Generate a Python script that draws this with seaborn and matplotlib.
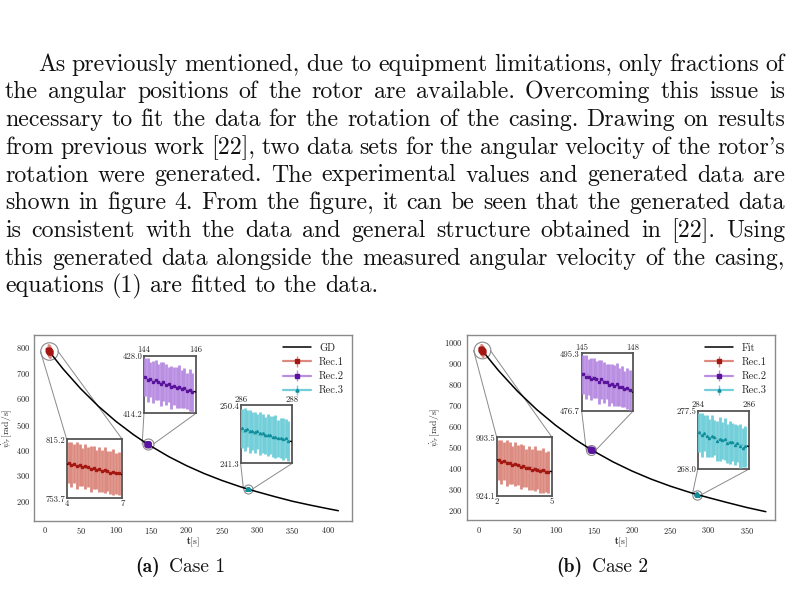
import numpy as np
import pandas as pd
import matplotlib
matplotlib.use('Agg')
import matplotlib.pyplot as plt
import matplotlib.transforms as mtransforms
import seaborn as sns

# ---------------- text ----------------
paragraph = [
    "As previously mentioned, due to equipment limitations, only fractions of",
    "the angular positions of the rotor are available.  Overcoming this issue is",
    "necessary to fit the data for the rotation of the casing. Drawing on results",
    "from previous work [22], two data sets for the angular velocity of the rotor's",
    "rotation were generated.  The experimental values and generated data are",
    "shown in figure 4. From the figure, it can be seen that the generated data",
    "is consistent with the data and general structure obtained in [22].  Using",
    "this generated data alongside the measured angular velocity of the casing,",
    "equations (1) are fitted to the data.",
]
caption_tags = ["(a)", "(b)"]
caption_texts = ["Case 1", "Case 2"]
curve_labels = ["GD", "Fit"]
rec_names = ["Rec.1", "Rec.2", "Rec.3"]

# ---------------- Case 1 data ----------------
c1_curve_t = [4, 7, 25, 50, 75, 100, 125, 144, 146, 175, 200, 225, 250, 275, 286, 288, 300, 325, 350, 375, 400, 415]
c1_curve_v = [789.5, 778.5, 715.8, 638.1, 569.9, 510.3, 458.1, 422.7, 419.3, 372.2, 337.1, 306.3, 279.4, 255.7,
              246.3, 244.7, 235.1, 216.0, 198.0, 183.0, 169.0, 161.0]

c1_r1_t = [4.10, 4.25, 4.40, 4.55, 4.70, 4.85, 5.00, 5.15, 5.30, 5.45, 5.60, 5.75, 5.90, 6.05, 6.20, 6.35, 6.50, 6.65, 6.80]
c1_r1_y = [790.8, 788.9, 790.0, 787.9, 788.1, 786.1, 787.1, 786.1, 784.6, 785.8, 783.8, 783.9, 782.1, 783.1, 781.8, 780.6, 781.6, 779.9, 780.0]
c1_r1_e = [21.5, 23.8, 20.6, 24.5, 22.0, 19.8, 23.2, 21.0, 24.0, 22.6, 20.4, 23.5, 21.8, 24.2, 20.9, 22.8, 23.9, 21.2, 22.5]

c1_r2_t = [144.05, 144.15, 144.25, 144.35, 144.45, 144.55, 144.65, 144.75, 144.85, 144.95, 145.05, 145.15, 145.25,
           145.35, 145.45, 145.55, 145.65, 145.75, 145.85]
c1_r2_y = [422.9, 422.2, 422.3, 421.7, 422.1, 421.7, 421.2, 421.8, 421.1, 421.2, 420.4, 420.8, 420.3, 420.6, 420.0,
           420.2, 419.5, 419.7, 419.2]
c1_r2_e = [4.6, 5.2, 4.3, 5.0, 4.8, 4.4, 5.3, 4.7, 4.9, 4.2, 5.1, 4.6, 4.9, 5.2, 4.5, 4.8, 4.3, 5.0, 4.7]

c1_r3_t = [286.05, 286.15, 286.25, 286.35, 286.45, 286.55, 286.65, 286.75, 286.85, 286.95, 287.05, 287.15, 287.25,
           287.35, 287.45, 287.55, 287.65, 287.75, 287.85]
c1_r3_y = [246.8, 246.6, 246.7, 246.3, 246.4, 246.2, 246.3, 246.0, 246.0, 245.7, 245.8, 245.8, 245.5, 245.5, 245.2,
           245.3, 245.1, 245.2, 244.8]
c1_r3_e = [3.1, 3.4, 2.9, 3.3, 3.0, 3.2, 2.8, 3.4, 3.1, 2.9, 3.3, 3.0, 3.2, 3.4, 2.9, 3.1, 3.3, 3.0, 3.2]

c1_inset_xlim = [(4, 7), (144, 146), (286, 288)]
c1_inset_ylim = [(753.7, 815.2), (414.2, 428.0), (241.3, 250.4)]
c1_xticks = [0, 50, 100, 150, 200, 250, 300, 350, 400]
c1_yticks = [200, 300, 400, 500, 600, 700, 800]

# ---------------- Case 2 data ----------------
c2_curve_t = [2, 5, 25, 50, 75, 100, 125, 145, 148, 175, 200, 225, 250, 275, 284, 286, 300, 325, 350, 375]
c2_curve_v = [967.2, 952.9, 863.3, 764.1, 677.5, 601.9, 536.0, 489.2, 482.7, 428.1, 384.2, 345.9, 312.5, 283.3,
              273.7, 271.7, 257.9, 234.0, 211.0, 191.0]

c2_r1_t = [2.10, 2.25, 2.40, 2.55, 2.70, 2.85, 3.00, 3.15, 3.30, 3.45, 3.60, 3.75, 3.90, 4.05, 4.20, 4.35, 4.50, 4.65, 4.80]
c2_r1_y = [966.5, 964.2, 965.4, 962.9, 963.1, 960.7, 961.7, 960.5, 958.7, 960.0, 957.5, 957.6, 955.5, 956.5, 955.1,
           953.5, 954.5, 952.4, 952.5]
c2_r1_e = [23.5, 26.2, 22.8, 27.0, 24.6, 22.1, 25.8, 23.4, 26.6, 24.9, 22.6, 26.0, 24.1, 26.9, 23.2, 25.4, 26.5, 23.6, 25.0]

c2_r2_t = [145.10, 145.25, 145.40, 145.55, 145.70, 145.85, 146.00, 146.15, 146.30, 146.45, 146.60, 146.75, 146.90,
           147.05, 147.20, 147.35, 147.50, 147.65, 147.80]
c2_r2_y = [488.5, 487.6, 487.8, 486.9, 487.4, 486.9, 486.2, 486.9, 486.0, 486.2, 485.1, 485.5, 484.9, 485.3, 484.5,
           484.6, 483.8, 484.0, 483.5]
c2_r2_e = [6.2, 7.0, 5.8, 6.8, 6.4, 5.9, 7.1, 6.3, 6.6, 5.7, 6.9, 6.2, 6.6, 7.0, 6.1, 6.5, 5.8, 6.7, 6.3]

c2_r3_t = [284.05, 284.15, 284.25, 284.35, 284.45, 284.55, 284.65, 284.75, 284.85, 284.95, 285.05, 285.15, 285.25,
           285.35, 285.45, 285.55, 285.65, 285.75, 285.85]
c2_r3_y = [274.0, 273.6, 273.9, 273.4, 273.1, 273.4, 273.2, 272.6, 273.0, 272.7, 272.9, 272.2, 272.4, 272.4, 272.0,
           272.2, 271.8, 271.5, 271.7]
c2_r3_e = [3.2, 3.6, 3.0, 3.4, 3.1, 3.5, 2.9, 3.3, 3.6, 3.0, 3.4, 3.2, 3.5, 3.1, 3.4, 3.0, 3.6, 3.2, 3.3]

c2_inset_xlim = [(2, 5), (145, 148), (284, 286)]
c2_inset_ylim = [(924.1, 993.5), (476.7, 495.3), (268.0, 277.5)]
c2_xticks = [0, 50, 100, 150, 200, 250, 300, 350]
c2_yticks = [200, 300, 400, 500, 600, 700, 800, 900, 1000]

# ---------------- styles ----------------
sns.set_style('white')
plt.rcParams['font.family'] = ['cmr10', 'DejaVu Serif']
plt.rcParams['mathtext.fontset'] = 'cm'
plt.rcParams['axes.formatter.use_mathtext'] = True
plt.rcParams['axes.unicode_minus'] = False

W, H = 790, 603
fig = plt.figure(figsize=(W / 100, H / 100), dpi=100)
fig.patch.set_facecolor('white')

rec_dark = ['#a51812', '#5a139c', '#0f8e9c']
rec_light = ['#dc8a80', '#b98ee2', '#72cfd9']
rec_marker = ['s', 's', '^']


def px_axes(x0, y_top, x1, y_bot):
    return fig.add_axes([x0 / W, (H - y_bot) / H, (x1 - x0) / W, (y_bot - y_top) / H])


def draw_case(ax, curve_t, curve_v, curve_label, recs, xlim, ylim, xticks, yticks,
              inset_bounds, inset_xlim, inset_ylim, inset_top, circle_d):
    df = pd.DataFrame({'t': curve_t, 'v': curve_v})
    sns.lineplot(data=df, x='t', y='v', ax=ax, color='black', lw=1.1, label=curve_label,
                 estimator=None, sort=True, zorder=4)
    conts = []
    for k, (t, y, e) in enumerate(recs):
        c = ax.errorbar(t, y, yerr=e, fmt=rec_marker[k], ms=2.2, mfc=rec_dark[k], mec=rec_dark[k],
                        color=rec_light[k], ecolor=rec_light[k], elinewidth=1.0, ls='-', lw=1.6,
                        capsize=0, label=rec_names[k], zorder=5)
        conts.append(c)
    ax.set_xlim(*xlim)
    ax.set_ylim(*ylim)
    ax.set_xticks(xticks)
    ax.set_yticks(yticks)
    ax.tick_params(direction='out', length=2.0, width=0.6, color='#777777', labelsize=6,
                   labelcolor='#222222', pad=1.2)
    for s in ax.spines.values():
        s.set_color('#8a8a8a')
        s.set_linewidth(1.0)
    ax.set_xlabel(r'$\mathbf{t}$[s]', fontsize=7, labelpad=0)
    ax.set_ylabel(r'$\dot{\psi}_r$[rad/s]', fontsize=7, labelpad=1)
    ax.legend(loc='upper right', frameon=False, fontsize=7.5, handlelength=2.7,
              labelspacing=0.45, borderaxespad=0.4, handletextpad=0.8)
    for c in conts:
        c[0].set_linestyle('none')

    # insets, circles and connector lines
    for k, (t, y, e) in enumerate(recs):
        b = inset_bounds[k]
        ins = ax.inset_axes(b, transform=ax.transData, zorder=6)
        sns.lineplot(data=df, x='t', y='v', ax=ins, color='black', lw=1.0, estimator=None,
                     sort=True, legend=False, zorder=4)
        ins.errorbar(t, y, yerr=e, fmt=rec_marker[k], ms=1.5, mfc=rec_dark[k], mec=rec_dark[k],
                     ecolor=rec_light[k], elinewidth=2.0, ls='none', capsize=0, zorder=5)
        ins.set_xlim(*inset_xlim[k])
        ins.set_ylim(*inset_ylim[k])
        ins.set_xticks(list(inset_xlim[k]))
        ins.set_xticklabels(['%g' % v for v in inset_xlim[k]])
        ins.set_yticks(list(inset_ylim[k]))
        ins.set_yticklabels(['%.1f' % v for v in inset_ylim[k]])
        ins.set_xlabel('')
        ins.set_ylabel('')
        ins.tick_params(length=0, labelsize=6.3, pad=1.2, labelcolor='#222222')
        if inset_top[k]:
            ins.xaxis.tick_top()
        for s in ins.spines.values():
            s.set_color('#555555')
            s.set_linewidth(1.3)
        ins.set_facecolor('white')

        cx, cy = np.mean(t), np.mean(y)
        ax.plot([cx], [cy], marker='o', ms=circle_d[k] * 0.72, mfc='none', mec='#8a8a8a',
                mew=0.8, ls='none', zorder=3)
        pc = ax.transData.transform((cx, cy))
        r = circle_d[k] / 2
        inv = ax.transData.inverted()
        pl = inv.transform((pc[0] - r, pc[1]))
        pr = inv.transform((pc[0] + r, pc[1]))
        if inset_top[k]:
            corners = [(b[0], b[1]), (b[0] + b[2], b[1])]
        else:
            corners = [(b[0], b[1] + b[3]), (b[0] + b[2], b[1] + b[3])]
        for (qx, qy), p in zip(corners, [pl, pr]):
            ax.plot([qx, p[0]], [qy, p[1]], color='#8a8a8a', lw=0.7, zorder=2)


ax1 = px_axes(34.3, 335, 352.3, 520.7)
draw_case(ax1, c1_curve_t, c1_curve_v, curve_labels[0],
          [(c1_r1_t, c1_r1_y, c1_r1_e), (c1_r2_t, c1_r2_y, c1_r2_e), (c1_r3_t, c1_r3_y, c1_r3_e)],
          (-15.6, 434.7), (122, 848), c1_xticks, c1_yticks,
          [[30.3, 209.2, 78.7, 230.8], [139.7, 541.8, 73.7, 225.3], [276.6, 346.2, 73.1, 226.9]],
          c1_inset_xlim, c1_inset_ylim, [False, True, True], [17.5, 11, 9])

ax2 = px_axes(466.7, 335, 775, 520.3)
draw_case(ax2, c2_curve_t, c2_curve_v, curve_labels[1],
          [(c2_r1_t, c2_r1_y, c2_r1_e), (c2_r2_t, c2_r2_y, c2_r2_e), (c2_r3_t, c2_r3_y, c2_r3_e)],
          (-16.5, 387), (150, 1032), c2_xticks, c2_yticks,
          [[22.8, 265.2, 72.4, 279.6], [134, 670, 67.2, 274.8], [285.9, 393.8, 67.1, 276.2]],
          c2_inset_xlim, c2_inset_ylim, [False, True, True], [16.7, 10, 9.3])

# ---------------- paragraph (justified) ----------------
fig.canvas.draw()
rend = fig.canvas.get_renderer()
ident = mtransforms.IdentityTransform()
fs_body = 17.2
space_w = 0.333 * fs_body * 100 / 72
for i, line in enumerate(paragraph):
    words = line.split()
    x_start = 38 if i == 0 else 5
    x_end = 785
    base = H - (70.7 + 27.7 * i)
    txts = [fig.text(0, base, w, fontsize=fs_body, transform=ident, va='baseline', ha='left',
                     color='#111111') for w in words]
    widths = [t.get_window_extent(rend).width for t in txts]
    if i < len(paragraph) - 1:
        gap = (x_end - x_start - sum(widths)) / (len(words) - 1)
    else:
        gap = space_w
    x = x_start
    for t, w in zip(txts, widths):
        t.set_x(x)
        x += w + gap

# ---------------- captions ----------------
cap_x = [135, 556]
cap_base = H - 572
fs_cap = 14
for k in range(2):
    t1 = fig.text(cap_x[k], cap_base, caption_tags[k], fontsize=fs_cap, family='cmb10',
                  transform=ident, va='baseline', ha='left', color='#111111')
    w1 = t1.get_window_extent(rend).width
    fig.text(cap_x[k] + w1 + 0.5 * fs_cap * 100 / 72, cap_base, caption_texts[k], fontsize=fs_cap,
             transform=ident, va='baseline', ha='left', color='#111111')

fig.savefig('out.png', dpi=100, facecolor='white')
